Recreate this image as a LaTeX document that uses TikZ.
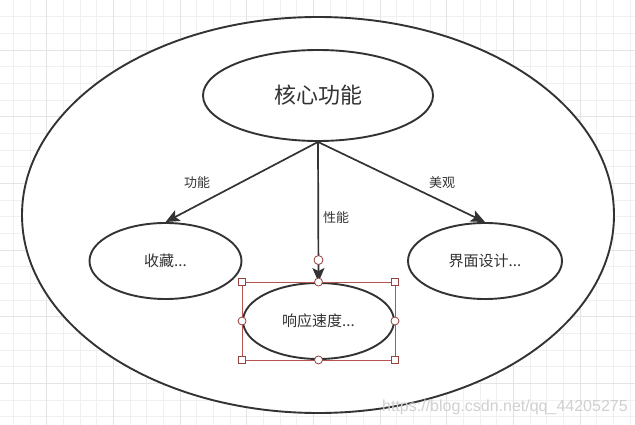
\documentclass[tikz,border=0pt]{standalone}
\usepackage{fontspec}
\setmainfont{Noto Sans CJK SC}
\newfontfamily\wmfont{Liberation Sans}
\usetikzlibrary{shapes.geometric,arrows.meta}
\definecolor{ink}{HTML}{333333}
\definecolor{selred}{HTML}{B85450}
\definecolor{gridminor}{HTML}{F0F0F0}
\definecolor{gridmajor}{HTML}{E4E4E4}
\definecolor{wmgray}{HTML}{D0D0D0}
\tikzset{
  shapeline/.style={ellipse, draw=ink, line width=1.9pt, fill=white, inner sep=0pt, text=ink},
  outerell/.style={shapeline, minimum width=592pt, minimum height=396pt},
  coreell/.style={shapeline, minimum width=230pt, minimum height=91pt, font=\fontsize{22pt}{25pt}\selectfont},
  leafell/.style={shapeline, minimum width=152pt, minimum height=76pt, font=\fontsize{15pt}{18pt}\selectfont},
  conn/.style={draw=ink, line width=1.7pt, -{Stealth[length=14pt,width=12pt,inset=3pt]}},
  lbl/.style={text=ink, inner sep=1pt, font=\fontsize{13pt}{15pt}\selectfont},
  selbox/.style={draw=selred, line width=0.7pt},
  sqh/.style={draw=selred!80!black, fill=white, line width=0.8pt, minimum size=7pt, inner sep=0pt, rectangle},
  circh/.style={draw=selred!80!black, fill=white, line width=0.8pt, minimum size=8pt, inner sep=0pt, circle},
  gridl/.style={draw=gridminor, line width=0.9pt},
  gridm/.style={draw=gridmajor, line width=0.9pt},
  wm/.style={text=wmgray, font=\wmfont\fontsize{16pt}{18pt}\selectfont, inner sep=0pt}
}
\begin{document}
\begin{tikzpicture}[x=1pt,y=-1pt]
\fill[white] (0,0) rectangle (635,425);
\useasboundingbox (0,0) rectangle (635,425);
% grid
\foreach \i in {0,...,37} { \draw[gridl] ({13.33+16.667*\i},0) -- ({13.33+16.667*\i},425); }
\foreach \j in {1,...,25} { \draw[gridl] (0,{16.667*\j}) -- (635,{16.667*\j}); }
\foreach \i in {0,...,8} { \draw[gridm] ({46.67+66.667*\i},0) -- ({46.67+66.667*\i},425); }
\foreach \j in {0,...,6} { \draw[gridm] (0,{50+66.667*\j}) -- (635,{50+66.667*\j}); }
% shapes
\node[outerell] (whole) at (318,215) {};
\node[coreell] (core) at (318,95.5) {核心功能};
\node[leafell] (fav) at (165.5,261) {收藏...};
\node[leafell, minimum width=154pt] (ui) at (485,261) {界面设计...};
\node[leafell, minimum width=151pt] (speed) at (318.5,321) {响应速度...};
% connectors
\draw[conn] (core.south) -- (fav.north);
\draw[conn] (core.south) -- (ui.north);
\draw[conn] (core.south) -- (speed.north);
% labels
\node[lbl] (lf) at (197,183) {功能};
\node[lbl] (lp) at (336,218) {性能};
\node[lbl] (la) at (442,183) {美观};
% selection handles
\draw[selbox] (speed.west |- speed.north) rectangle (speed.east |- speed.south);
\node[sqh] (h1) at (speed.west |- speed.north) {};
\node[sqh] (h2) at (speed.east |- speed.north) {};
\node[sqh] (h3) at (speed.west |- speed.south) {};
\node[sqh] (h4) at (speed.east |- speed.south) {};
\node[circh] (c1) at (speed.north) {};
\node[circh] (c2) at (speed.south) {};
\node[circh] (c3) at (speed.west) {};
\node[circh] (c4) at (speed.east) {};
\node[circh, minimum size=9pt] (rot) at ([yshift=22pt]speed.north) {};
% watermark
\node[wm, anchor=west] (mark) at (382,407) {https://blog.csdn.net/qq\_44205275};
\end{tikzpicture}
\end{document}
